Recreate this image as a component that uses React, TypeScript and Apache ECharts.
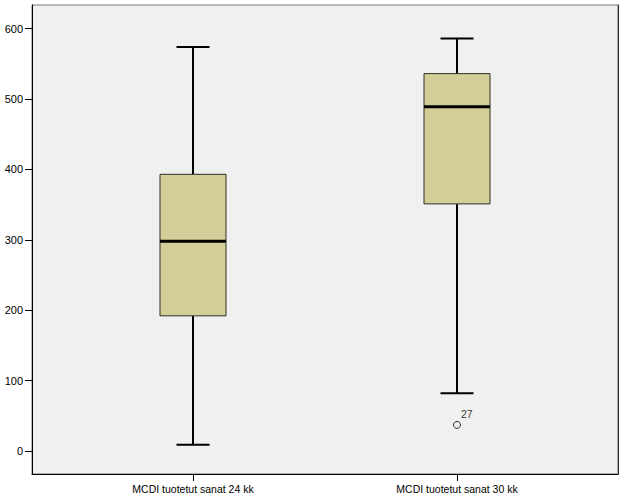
import React, { useEffect, useRef } from "react";
import * as echarts from "echarts";

const categories = ["MCDI tuotetut sanat 24 kk", "MCDI tuotetut sanat 30 kk"];
const whiskerLow = [9, 82];
const q1 = [192, 351];
const median = [298, 489];
const q3 = [393, 536];
const whiskerHigh = [574, 586];
const outlierCategory = [1];
const outlierValue = [37];
const outlierLabel = ["27"];
const yTicks = [0, 100, 200, 300, 400, 500, 600];
const yMin = -32.7;
const yMax = 633.5;

const FONT = "'Liberation Sans', Arial, sans-serif";

export default function App() {
  const ref = useRef<HTMLDivElement>(null);
  useEffect(() => {
    if (!ref.current) return;
    const chart = echarts.init(ref.current, undefined, { renderer: "svg" });
    const boxData = categories.map((_, i) => [i, whiskerLow[i], q1[i], median[i], q3[i], whiskerHigh[i]]);
    const outData = outlierCategory.map((c, i) => ({ value: [c, outlierValue[i]], name: outlierLabel[i] }));
    chart.setOption({
      animation: false,
      backgroundColor: "#ffffff",
      grid: [
        { left: 32, right: 8, top: 5, bottom: 27, show: true, backgroundColor: "#F0F0F0", borderColor: "#777777", borderWidth: 1 },
        { left: 61, right: 37, top: 5, bottom: 27, show: false },
      ],
      xAxis: [
        {
          gridIndex: 0, type: "value", min: 0, max: 1, position: "bottom",
          axisLine: { show: true, onZero: false, lineStyle: { color: "#000", width: 1 } },
          axisTick: { show: false }, axisLabel: { show: false }, splitLine: { show: false },
        },
        {
          gridIndex: 1, type: "category", data: categories, boundaryGap: true, position: "bottom",
          axisLine: { show: false, onZero: false },
          axisTick: { show: true, alignWithLabel: true, length: 7, lineStyle: { color: "#000" } },
          axisLabel: { color: "#000", fontSize: 10.5, fontFamily: FONT, margin: 9 },
          splitLine: { show: false },
        },
      ],
      yAxis: [
        {
          gridIndex: 0, type: "value", min: yMin, max: yMax, position: "left",
          axisLine: { show: true, onZero: false, lineStyle: { color: "#000", width: 1 } },
          axisTick: { show: true, length: 7, customValues: yTicks, lineStyle: { color: "#000" } },
          axisLabel: { color: "#000", fontSize: 11, fontFamily: FONT, margin: 9, customValues: yTicks },
          splitLine: { show: false },
        },
        {
          gridIndex: 0, type: "value", min: yMin, max: yMax, position: "right",
          axisLine: { show: true, onZero: false, lineStyle: { color: "#222", width: 1 } },
          axisTick: { show: false }, axisLabel: { show: false }, splitLine: { show: false },
        },
        {
          gridIndex: 1, type: "value", min: yMin, max: yMax, show: false,
          splitLine: { show: false },
        },
      ],
      series: [
        {
          type: "custom",
          xAxisIndex: 1,
          yAxisIndex: 2,
          data: boxData,
          encode: { x: 0, y: [1, 2, 3, 4, 5] },
          renderItem: (params: any, api: any) => {
            const idx = api.value(0);
            const pLow = api.coord([idx, api.value(1)]);
            const pQ1 = api.coord([idx, api.value(2)]);
            const pMed = api.coord([idx, api.value(3)]);
            const pQ3 = api.coord([idx, api.value(4)]);
            const pHigh = api.coord([idx, api.value(5)]);
            const band = api.size([1, 0])[0];
            const bw = band * 0.25;
            const cw = band * 0.125;
            const cx = pMed[0];
            const ls = { stroke: "#000", lineWidth: 2 };
            return {
              type: "group",
              children: [
                { type: "line", shape: { x1: cx, y1: pQ3[1], x2: cx, y2: pHigh[1] }, style: ls },
                { type: "line", shape: { x1: cx - cw / 2, y1: pHigh[1], x2: cx + cw / 2, y2: pHigh[1] }, style: ls },
                { type: "line", shape: { x1: cx, y1: pLow[1], x2: cx, y2: pQ1[1] }, style: ls },
                { type: "line", shape: { x1: cx - cw / 2, y1: pLow[1], x2: cx + cw / 2, y2: pLow[1] }, style: ls },
                {
                  type: "rect",
                  shape: { x: cx - bw / 2, y: pQ3[1], width: bw, height: pQ1[1] - pQ3[1] },
                  style: { fill: "#D3CE97", stroke: "#2e2e24", lineWidth: 1 },
                },
                { type: "line", shape: { x1: cx - bw / 2, y1: pMed[1], x2: cx + bw / 2, y2: pMed[1] }, style: { stroke: "#000", lineWidth: 3 } },
              ],
            };
          },
        },
        {
          type: "scatter",
          xAxisIndex: 1,
          yAxisIndex: 2,
          data: outData,
          symbol: "circle",
          symbolSize: 7,
          itemStyle: { color: "#F0F0F0", borderColor: "#000", borderWidth: 1 },
          label: {
            show: true,
            formatter: (p: any) => p.name,
            position: [8, -12],
            color: "#000",
            textBorderWidth: 0,
            fontSize: 10.5,
            fontFamily: FONT,
          },
        },
      ],
    });
    return () => chart.dispose();
  }, []);
  return <div ref={ref} style={{ position: "fixed", left: 0, top: 0, width: 626, height: 501 }} />;
}
